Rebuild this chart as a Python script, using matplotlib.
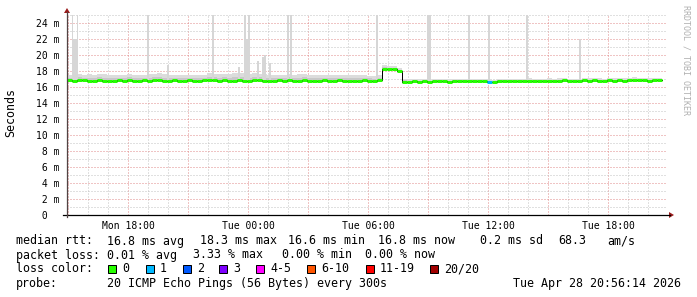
import matplotlib
matplotlib.use("Agg")
import matplotlib.pyplot as plt
from matplotlib.patches import Rectangle, Polygon
from matplotlib.lines import Line2D
import numpy as np

W, H = 697, 297

# ---------------- data (hours since Mon 14:57, 15-min bins) ----------------
start_clock_min = 14 * 60 + 57
bin_hours = 0.25
median_ms = [
    16.85, 16.80, 16.90, 16.85, 16.80, 16.75, 16.85, 16.80, 16.80, 16.75,
    16.85, 16.80, 16.90, 16.80, 16.75, 16.85, 16.80, 16.85, 16.90, 16.80,
    16.75, 16.85, 16.80, 16.80, 16.85, 16.80, 16.75, 16.85, 16.90, 16.85,
    16.80, 16.85, 16.75, 16.80, 16.85, 16.80, 16.80, 16.90, 16.85, 16.80,
    16.75, 16.80, 16.85, 16.80, 16.85, 16.75, 16.80, 16.85, 16.80, 16.75,
    16.80, 16.85, 16.80, 16.75, 16.85, 16.80, 16.80, 16.75, 16.80, 16.85,
    16.80, 16.75, 16.85,
    18.20, 18.20, 18.20, 17.95,
    16.65, 16.65, 16.70, 16.65, 16.70, 16.65, 16.70, 16.75, 16.70, 16.65,
    16.70, 16.70, 16.75,
    16.70, 16.75, 16.70, 16.70,
    16.65,
    16.60, 16.70, 16.75, 16.70, 16.75, 16.70, 16.75, 16.80, 16.75, 16.70,
    16.75,
    16.80, 16.75, 16.80, 16.85, 16.80, 16.75, 16.80, 16.85, 16.80, 16.85,
    16.80, 16.75, 16.85, 16.80, 16.85, 16.80, 16.85, 16.90, 16.85, 16.85,
    16.80, 16.85, 16.85,
]
# smoke spread above the median, one value per hour
smoke_spread_ms = [0.7, 0.8, 0.7, 0.7, 0.8, 0.7, 0.7, 0.8, 0.9, 0.8,
                   0.7, 0.8, 0.7, 0.7, 0.7, 0.6, 0.4, 0.3, 0.25, 0.3,
                   0.25, 0.3, 0.25, 0.3, 0.3, 0.25, 0.3, 0.3, 0.3, 0.3]
# isolated smoke spikes (hour, top in ms)
spike_hour = [0.28, 0.36, 0.44, 0.52, 4.05, 5.05, 7.3, 8.6, 8.9, 9.0, 9.1,
              9.55, 9.8, 9.9, 10.15, 11.05, 11.2, 15.5, 18.05, 18.15, 20.1,
              21.1, 23.0, 25.65]
spike_top_ms = [25, 22, 22, 25, 25, 18.7, 25, 18.5, 25, 22, 25, 19.3, 19.8,
                20.0, 19.0, 25, 25, 25, 25, 25, 25, 25, 25, 22]
# packet loss events (bin start hour, lost pings)
loss_hour = [21.0]
loss_pings = [1]

loss_labels = ["0", "1", "2", "3", "4-5", "6-10", "11-19", "20/20"]
loss_colors = ["#26ff00", "#00b8ff", "#0059ff", "#7e00ff", "#ff00ff",
               "#ff5500", "#ff0000", "#a10000"]

xtick_clock_min = [18 * 60, 24 * 60, 30 * 60, 36 * 60, 42 * 60]
xtick_labels = ["Mon 18:00", "Tue 00:00", "Tue 06:00", "Tue 12:00", "Tue 18:00"]
ytick_values = [0, 2, 4, 6, 8, 10, 12, 14, 16, 18, 20, 22, 24]

legend_line1 = [("median rtt:", 16), ("16.8 ms avg", 107), ("18.3 ms max", 200),
                ("16.6 ms min", 288), ("16.8 ms now", 378), ("0.2 ms sd", 480),
                ("68.3", 558), ("am/s", 607)]
legend_line2 = [("packet loss:", 16), ("0.01 % avg", 107), ("3.33 % max", 193),
                ("0.00 % min", 282), ("0.00 % now", 365)]
legend_line4 = [("probe:", 16), ("20 ICMP Echo Pings (56 Bytes) every 300s", 107),
                ("Tue Apr 28 20:56:14 2026", 513)]
box_x = [108, 146, 183, 219, 256, 307, 366, 430]

# ---------------- figure ----------------
plt.rcParams["font.family"] = ["DejaVu Sans Mono", "DejaVu Sans"]
fig = plt.figure(figsize=(W / 100, H / 100), dpi=100)
fig.patch.set_facecolor("white")

L, R, T, B = 67, 667, 15, 215
ax = fig.add_axes([L / W, 1 - B / H, (R - L) / W, (B - T) / H])
ax.set_xlim(0, 30)
ax.set_ylim(0, 25)
for s in ax.spines.values():
    s.set_visible(False)

def fx(x):
    return x / W

def fy(y):
    return 1 - y / H

# grid
px = 0.72
for h in range(0, 31):
    t = (15 * 60 + h * 60 - start_clock_min) / 60.0
    if 0 < t < 30:
        major = ((15 + h) % 3 == 0)
        ax.axvline(t, color="#e08a8a" if major else "#c2c2c2", lw=px,
                   dashes=(1, 2), zorder=0.5, snap=True)
for v in range(1, 26):
    major = (v % 2 == 0)
    ax.axhline(v, color="#e08a8a" if major else "#c2c2c2", lw=px,
               dashes=(1, 2), zorder=0.5, snap=True)

# smoke
med = np.array(median_ms)
n = len(med)
edges = np.arange(n + 1) * bin_hours
spread = np.repeat(np.array(smoke_spread_ms), int(1 / bin_hours))[:n]
hi = med + spread
lo = med - 0.12
ax.fill_between(edges, np.append(lo, lo[-1]), np.append(hi, hi[-1]),
                step="post", color="#dcdcdc", lw=0, zorder=1)
inner = med + spread * 0.45
ax.fill_between(edges, np.append(lo, lo[-1]), np.append(inner, inner[-1]),
                step="post", color="#c8c8c8", lw=0, zorder=1.1)
sp_base = [med[min(int(t / bin_hours), n - 1)] for t in spike_hour]
ax.bar(spike_hour, np.array(spike_top_ms) - np.array(sp_base), bottom=sp_base,
       width=1 / 12, align="center", color="#d6d6d6", lw=0, zorder=1.2)

# median line
ax.step(edges, np.append(med, med[-1]), where="post", color="black",
        lw=0.72, zorder=2)
line_cols = [loss_colors[0]] * n
for h, c in zip(loss_hour, loss_pings):
    line_cols[int(round(h / bin_hours))] = loss_colors[c]
ax.hlines(med, edges[:-1], edges[1:], colors=line_cols, lw=2.16, zorder=3,
          capstyle="butt")

# ticks
xt = [(m - start_clock_min) / 60.0 for m in xtick_clock_min]
ax.set_xticks(xt)
ax.set_xticklabels(xtick_labels, fontsize=7.05)
ax.tick_params(axis="x", length=0, pad=4)
ax.set_yticks([])
for v in ytick_values:
    lab = (" " if v < 10 else "") + (f"{v} m" if v else "0  ")
    fig.text(fx(36), fy(B - v * 8), lab, fontsize=7.05, ha="left",
             va="center_baseline")

# axes lines and arrows
fig.add_artist(Line2D([fx(63), fx(670)], [fy(215), fy(215)], color="black",
                      lw=0.9))
fig.add_artist(Line2D([fx(67), fx(67)], [fy(217), fy(12)], color="#504444",
                      lw=0.9))
fig.add_artist(Polygon([[fx(669), fy(212)], [fx(669), fy(218)], [fx(674), fy(215)]],
                       closed=True, color="#9a1a1a", lw=0))
fig.add_artist(Polygon([[fx(64), fy(13)], [fx(70), fy(13)], [fx(67), fy(8)]],
                       closed=True, color="#9a1a1a", lw=0))

# y title and watermark
fig.text(fx(11), fy(113), "Seconds", rotation=90, fontsize=8.37,
         ha="center", va="center")
fig.text(fx(686), fy(60), "RRDTOOL / TOBI OETIKER", rotation=-90,
         fontsize=6.0, ha="center", va="center", color="#b0b0b0")

# legend
fs = 8.37
for txt, x in legend_line1:
    fig.text(fx(x), fy(241), txt, fontsize=fs, ha="left", va="center")
for txt, x in legend_line2:
    fig.text(fx(x), fy(255), txt, fontsize=fs, ha="left", va="center")
fig.text(fx(16), fy(269), "loss color:", fontsize=fs, ha="left", va="center")
for bx, lab, col in zip(box_x, loss_labels, loss_colors):
    fig.add_artist(Rectangle((fx(bx), fy(273)), 8 / W, 8 / H,
                             transform=fig.transFigure, facecolor=col,
                             edgecolor="black", lw=0.72))
    fig.text(fx(bx + 14), fy(269), lab, fontsize=fs, ha="left", va="center")
for txt, x in legend_line4:
    fig.text(fx(x), fy(283), txt, fontsize=fs, ha="left", va="center")

fig.savefig("out.png", dpi=100, facecolor="white")
